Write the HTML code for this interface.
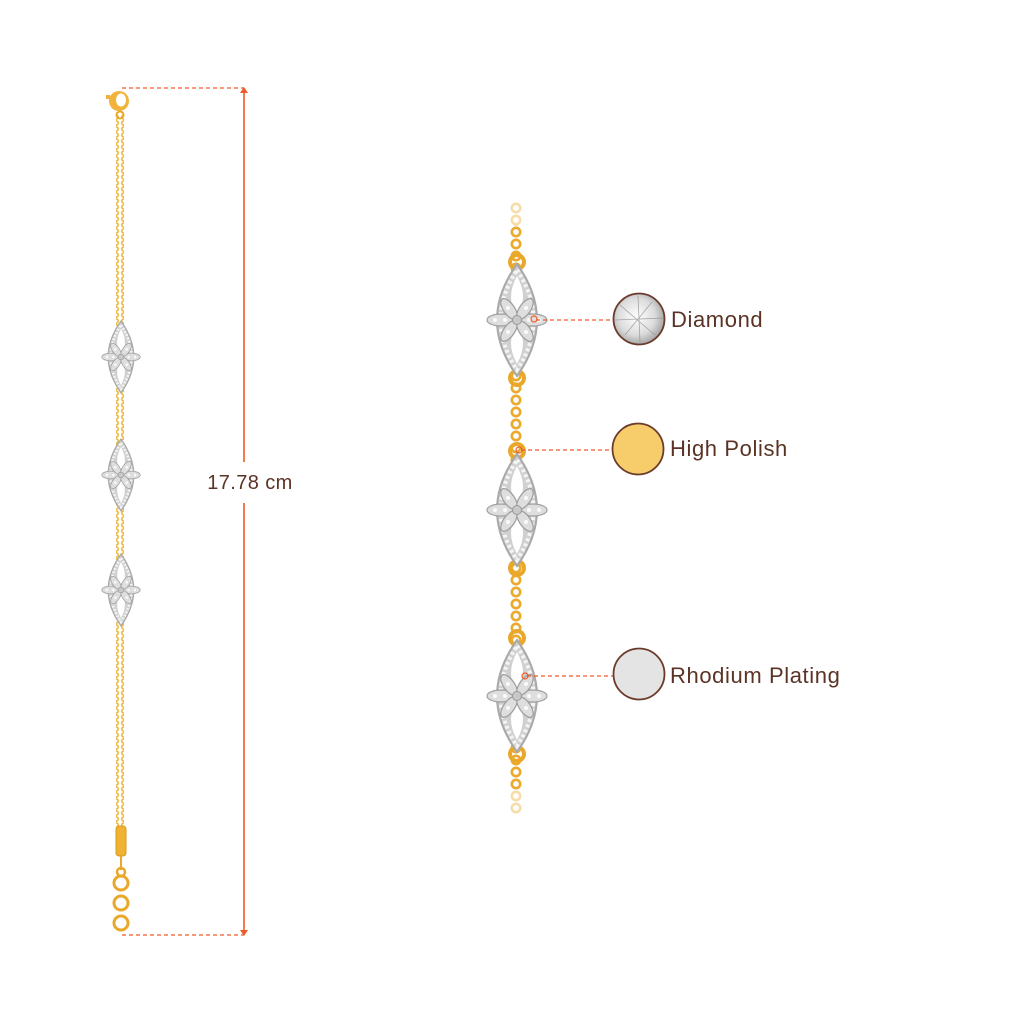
<!DOCTYPE html>
<html><head><meta charset="utf-8"><style>
html,body{margin:0;padding:0;background:#fff;width:1024px;height:1024px;overflow:hidden}
svg{display:block}
text{font-family:"Liberation Sans",sans-serif;fill:#5a3325}
</style></head><body>
<svg width="1024" height="1024" viewBox="0 0 1024 1024" xmlns="http://www.w3.org/2000/svg">
<defs>
  <radialGradient id="dia" cx="45%" cy="45%" r="60%">
    <stop offset="0" stop-color="#ffffff"/>
    <stop offset="0.6" stop-color="#dcdcdc"/>
    <stop offset="1" stop-color="#9a9a9a"/>
  </radialGradient>
  <g id="motif">
    <path d="M0,-56 Q40,0 0,56 Q-40,0 0,-56Z" fill="#d0d0d0" stroke="#a9a9a9" stroke-width="2"/>
    <path d="M0,-44 Q12,-22 0,-4 Q-12,-22 0,-44Z" fill="#fff"/>
    <path d="M0,44 Q12,22 0,4 Q-12,22 0,44Z" fill="#fff"/>
    <path d="M0,-50 Q33,0 0,50 Q-33,0 0,-50Z" fill="none" stroke="#f4f4f4" stroke-width="4" stroke-dasharray="3 2.5"/>
    <g fill="#dedede" stroke="#9e9e9e" stroke-width="1.2">
      <ellipse cx="-16" cy="0" rx="14" ry="6"/>
      <ellipse cx="16" cy="0" rx="14" ry="6"/>
      <ellipse cx="-8" cy="-11" rx="12" ry="5.5" transform="rotate(55 -8 -11)"/>
      <ellipse cx="8" cy="-11" rx="12" ry="5.5" transform="rotate(-55 8 -11)"/>
      <ellipse cx="-8" cy="11" rx="12" ry="5.5" transform="rotate(-55 -8 11)"/>
      <ellipse cx="8" cy="11" rx="12" ry="5.5" transform="rotate(55 8 11)"/>
    </g>
    <g fill="#fafafa">
      <circle cx="-22" cy="0" r="2"/><circle cx="22" cy="0" r="2"/><circle cx="-12" cy="0" r="2"/><circle cx="12" cy="0" r="2"/>
      <circle cx="-9" cy="-12" r="2"/><circle cx="9" cy="-12" r="2"/><circle cx="-9" cy="12" r="2"/><circle cx="9" cy="12" r="2"/>
    </g>
    <circle cx="0" cy="0" r="4.5" fill="#c8c8c8" stroke="#999" stroke-width="1"/>
  </g>
  <pattern id="lchain" x="0" y="0" width="8" height="6" patternUnits="userSpaceOnUse">
    <circle cx="4" cy="3" r="2.2" fill="none" stroke="#eeb63a" stroke-width="1.6"/>
  </pattern>
  <pattern id="rchain" x="0" y="0" width="16" height="12" patternUnits="userSpaceOnUse" patternTransform="translate(508 202)">
    <circle cx="8" cy="6" r="4.2" fill="none" stroke="#eaaa2e" stroke-width="2.6"/>
  </pattern>
</defs>

<!-- LEFT BRACELET -->
<rect x="116" y="112" width="8" height="716" fill="url(#lchain)"/>
<circle cx="119" cy="101" r="10" fill="#f2b33a"/>
<ellipse cx="121" cy="100" rx="5" ry="6.5" fill="#fff"/>
<rect x="106" y="95" width="4" height="4" fill="#f2b33a"/>
<circle cx="120" cy="115" r="3.5" fill="none" stroke="#e9a92c" stroke-width="2"/>
<g transform="translate(121 357) scale(0.64)"><use href="#motif"/></g>
<g transform="translate(121 475) scale(0.64)"><use href="#motif"/></g>
<g transform="translate(121 590) scale(0.64)"><use href="#motif"/></g>
<rect x="116" y="826" width="10" height="30" rx="3" fill="#f0b232" stroke="#d99a20" stroke-width="1"/>
<line x1="121" y1="856" x2="121" y2="870" stroke="#e9a92c" stroke-width="2"/>
<circle cx="121" cy="872" r="4" fill="none" stroke="#eaa82a" stroke-width="2.5"/>
<circle cx="121" cy="883" r="7" fill="none" stroke="#eaa82a" stroke-width="3"/>
<circle cx="121" cy="903" r="7" fill="none" stroke="#eaa82a" stroke-width="3"/>
<circle cx="121" cy="923" r="7" fill="none" stroke="#eaa82a" stroke-width="3"/>

<!-- DIMENSION -->
<line x1="122" y1="88" x2="244" y2="88" stroke="#f05a28" stroke-width="1.3" stroke-dasharray="4 3"/>
<line x1="122" y1="935" x2="244" y2="935" stroke="#f05a28" stroke-width="1.3" stroke-dasharray="4 3"/>
<line x1="244" y1="90" x2="244" y2="462" stroke="#f05a28" stroke-width="1.6"/>
<line x1="244" y1="503" x2="244" y2="933" stroke="#f05a28" stroke-width="1.6"/>
<path d="M240,93 L244,87 L248,93Z" fill="#f05a28"/>
<path d="M240,930 L244,936 L248,930Z" fill="#f05a28"/>
<text x="250" y="489" font-size="20" letter-spacing="0.4" text-anchor="middle">17.78 cm</text>

<!-- RIGHT BRACELET -->
<rect x="508" y="202" width="16" height="612" fill="url(#rchain)"/>
<rect x="505" y="195" width="24" height="30" fill="#fff" opacity="0.6"/>
<rect x="505" y="790" width="24" height="30" fill="#fff" opacity="0.6"/>
<circle cx="517" cy="262" r="7" fill="none" stroke="#eaa82a" stroke-width="4"/>
<circle cx="517" cy="378" r="7" fill="none" stroke="#eaa82a" stroke-width="4"/>
<circle cx="517" cy="451" r="7" fill="none" stroke="#eaa82a" stroke-width="4"/>
<circle cx="517" cy="568" r="7" fill="none" stroke="#eaa82a" stroke-width="4"/>
<circle cx="517" cy="638" r="7" fill="none" stroke="#eaa82a" stroke-width="4"/>
<circle cx="517" cy="754" r="7" fill="none" stroke="#eaa82a" stroke-width="4"/>
<g transform="translate(517 320)"><use href="#motif"/></g>
<g transform="translate(517 510)"><use href="#motif"/></g>
<g transform="translate(517 696)"><use href="#motif"/></g>

<!-- CALLOUTS -->
<line x1="536" y1="320" x2="613" y2="320" stroke="#f05a28" stroke-width="1.3" stroke-dasharray="4 3"/>
<circle cx="534" cy="319" r="3" fill="none" stroke="#f05a28" stroke-width="1.2"/>
<line x1="521" y1="450" x2="613" y2="450" stroke="#f05a28" stroke-width="1.3" stroke-dasharray="4 3"/>
<circle cx="519" cy="450" r="3" fill="none" stroke="#f05a28" stroke-width="1.2"/>
<line x1="527" y1="676" x2="613" y2="676" stroke="#f05a28" stroke-width="1.3" stroke-dasharray="4 3"/>
<circle cx="525" cy="676" r="3" fill="none" stroke="#f05a28" stroke-width="1.2"/>

<circle cx="639" cy="319" r="25.5" fill="url(#dia)" stroke="#6b3c2c" stroke-width="1.8"/>
<g stroke="#8a8a8a" stroke-width="0.8" opacity="0.7">
<line x1="620" y1="305" x2="655" y2="335"/><line x1="625" y1="335" x2="652" y2="302"/>
<line x1="615" y1="320" x2="663" y2="318"/><line x1="638" y1="296" x2="640" y2="342"/>
</g>
<circle cx="638" cy="449" r="25.5" fill="#f7cd6c" stroke="#6b3c2c" stroke-width="1.8"/>
<circle cx="639" cy="674" r="25.5" fill="#e4e4e4" stroke="#6b3c2c" stroke-width="1.8"/>

<text x="671" y="327" font-size="22" letter-spacing="0.6">Diamond</text>
<text x="670" y="456" font-size="22" letter-spacing="0.6">High Polish</text>
<text x="670" y="683" font-size="22" letter-spacing="0.6">Rhodium Plating</text>
</svg>
</body></html>
